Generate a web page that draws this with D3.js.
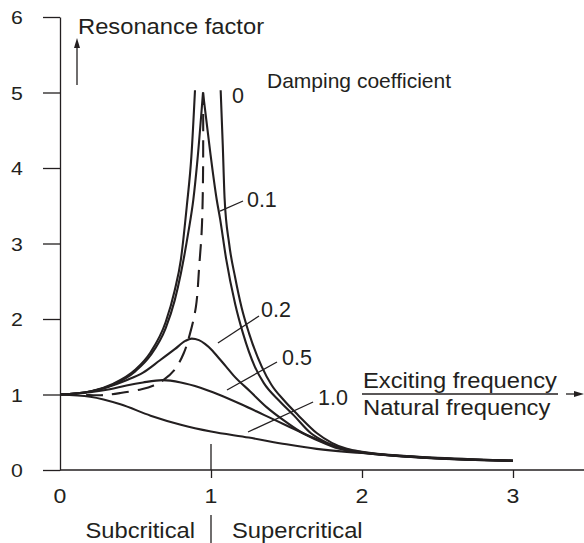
<!DOCTYPE html>
<html><head><meta charset="utf-8">
<script src="https://cdn.jsdelivr.net/npm/d3@7"></script>
<style>
body{margin:0;background:#fff}
svg{display:block}
text{font-family:"Liberation Sans",Arial,Helvetica,sans-serif;fill:#231f20}
</style>
</head><body>
<svg id="chart" width="584" height="543"></svg>
<script>
// ---- data ----
const xTickValues = [0, 1, 2, 3];
const xTickLabels = ["0", "1", "2", "3"];
const yTickValues = [0, 1, 2, 3, 4, 5, 6];
const yTickLabels = ["0", "1", "2", "3", "4", "5", "6"];

// damping 0 : two branches
const d0Left = [[0,1],[0.2,1.04],[0.35,1.14],[0.5,1.33],[0.6,1.56],[0.7,1.96],[0.76,2.38],[0.8,2.78],[0.84,3.5],[0.87,4.15],[0.894,5.03]];
const d0Right = [[1.064,5.03],[1.078,4.3],[1.09,3.6],[1.12,3.0],[1.16,2.55],[1.203,2.15],[1.252,1.81],[1.336,1.37],[1.40,1.13],[1.48,0.93],[1.58,0.72],[1.70,0.49],[1.80,0.36],[1.90,0.28],[2.0,0.24],[2.25,0.19],[2.5,0.16],[2.75,0.14],[3.0,0.125]];
// damping 0.1 : rising and falling side (pointed peak)
const d01Left = [[0,1],[0.2,1.04],[0.35,1.13],[0.5,1.31],[0.6,1.52],[0.7,1.88],[0.76,2.25],[0.8,2.6],[0.85,3.15],[0.883,3.58],[0.91,4.1],[0.947,5.0]];
const d01Right = [[0.947,5.0],[0.993,4.24],[1.038,3.58],[1.06,3.33],[1.1,2.8],[1.16,2.2],[1.212,1.81],[1.29,1.37],[1.35,1.15],[1.45,0.92],[1.55,0.72],[1.66,0.49],[1.77,0.36],[1.88,0.275],[2.0,0.235],[2.25,0.187],[2.5,0.157],[2.75,0.137],[3.0,0.123]];
// damping 0.2
const d02 = [[0,1],[0.2,1.04],[0.44,1.19],[0.55,1.29],[0.66,1.45],[0.76,1.6],[0.83,1.71],[0.872,1.74],[0.92,1.72],[0.96,1.67],[1.01,1.58],[1.04,1.51],[1.1,1.37],[1.15,1.25],[1.26,1.04],[1.37,0.83],[1.48,0.66],[1.59,0.51],[1.72,0.38],[1.85,0.28],[2.0,0.232],[2.25,0.185],[2.5,0.155],[2.75,0.135],[3.0,0.122]];
// damping 0.5
const d05 = [[0,1],[0.2,1.03],[0.33,1.07],[0.44,1.12],[0.55,1.16],[0.68,1.19],[0.8,1.16],[0.93,1.09],[1.05,1.0],[1.2,0.87],[1.35,0.73],[1.5,0.59],[1.65,0.45],[1.8,0.33],[1.92,0.255],[2.0,0.23],[2.25,0.184],[2.5,0.154],[2.75,0.134],[3.0,0.121]];
// damping 1.0
const d10 = [[0,1],[0.2,0.97],[0.4,0.87],[0.6,0.72],[0.8,0.6],[1.0,0.51],[1.25,0.43],[1.5,0.34],[1.7,0.28],[1.9,0.24],[2.0,0.225],[2.25,0.184],[2.5,0.154],[2.75,0.134],[3.0,0.12]];
// locus of maxima (dashed)
const peakLocus = [[0,1],[0.15,0.995],[0.27,0.99],[0.4,1.02],[0.54,1.07],[0.62,1.12],[0.684,1.19],[0.76,1.33],[0.82,1.55],[0.86,1.8],[0.9,2.16],[0.922,2.7],[0.938,3.15],[0.945,3.6],[0.948,4.1],[0.948,5.0]];

// curve labels: text, leader start, leader end, text anchor point (data units)
const curveLabels = [
  {t:"0",   text:[1.139,4.861]},
  {t:"0.1", from:[1.060,3.430], to:[1.212,3.563], text:[1.238,3.483]},
  {t:"0.2", from:[1.046,1.682], to:[1.318,2.040], text:[1.331,2.027]},
  {t:"0.5", from:[1.106,1.060], to:[1.437,1.431], text:[1.470,1.391]},
  {t:"1.0", from:[1.245,0.503], to:[1.676,0.901], text:[1.709,0.861]}
];

// ---- drawing ----
const svg = d3.select("#chart");
const ink = "#231f20";
const x = d3.scaleLinear().domain([0, 3]).range([60, 513]);
const y = d3.scaleLinear().domain([0, 6]).range([470, 17]);

function label(px, py, str, size, anchor, sx) {
  return svg.append("text")
    .attr("transform", `translate(${px},${py}) scale(${sx || 1},1)`)
    .attr("text-anchor", anchor || "start")
    .attr("font-size", size).text(str);
}

// y axis
const yAxis = svg.append("g").attr("transform", `translate(${x(0)},0)`)
  .call(d3.axisLeft(y).tickValues(yTickValues).tickSize(17).tickSizeOuter(0).tickFormat(""));
yAxis.select(".domain").attr("stroke", ink).attr("stroke-width", 1.3);
yAxis.selectAll(".tick line").attr("stroke", ink).attr("stroke-width", 1.3);
yTickValues.forEach((v, i) => label(17, y(v) + 7, yTickLabels[i], 19, "middle", 1.12));

// x axis
const xAxis = svg.append("g").attr("transform", `translate(0,${y(0)})`)
  .call(d3.axisBottom(x).tickValues(xTickValues.filter(v => v > 0)).tickSize(8).tickSizeOuter(0).tickFormat(""));
xAxis.select(".domain").remove();
xAxis.selectAll(".tick line").attr("stroke", ink).attr("stroke-width", 1.3);
xTickValues.forEach((v, i) => label(x(v), 503, xTickLabels[i], 21, "middle", 1.1));
svg.append("line").attr("x1", x(0)).attr("x2", 584).attr("y1", y(0)).attr("y2", y(0))
  .attr("stroke", ink).attr("stroke-width", 1.3);
// critical marker at 1
svg.append("line").attr("x1", x(1)).attr("x2", x(1)).attr("y1", y(0) - 26).attr("y2", y(0))
  .attr("stroke", ink).attr("stroke-width", 1.3);
svg.append("line").attr("x1", x(1)).attr("x2", x(1)).attr("y1", 515).attr("y2", 543)
  .attr("stroke", ink).attr("stroke-width", 1.3);
label(x(1) - 16, 538, "Subcritical", 22, "end", 1.08);
label(x(1) + 21, 538, "Supercritical", 22, "start", 1.08);

// curves
const lineM = d3.line().x(d => x(d[0])).y(d => y(d[1])).curve(d3.curveMonotoneX);
const lineC = d3.line().x(d => x(d[0])).y(d => y(d[1])).curve(d3.curveCatmullRom.alpha(0.5));
[d10, d05, d02, d01Left, d01Right, d0Left, d0Right].forEach(s => {
  svg.append("path").attr("d", lineM(s)).attr("fill", "none")
    .attr("stroke", ink).attr("stroke-width", 2.1).attr("stroke-linejoin", "round");
});
svg.append("path").attr("d", lineC(peakLocus)).attr("fill", "none")
  .attr("stroke", ink).attr("stroke-width", 2.1).attr("stroke-dasharray", "17,9");

// curve labels
curveLabels.forEach(l => {
  if (l.from) svg.append("line").attr("x1", x(l.from[0])).attr("y1", y(l.from[1]))
    .attr("x2", x(l.to[0])).attr("y2", y(l.to[1])).attr("stroke", ink).attr("stroke-width", 1.3);
  label(x(l.text[0]), y(l.text[1]), l.t, 21.5, "start", 1);
});

// axis titles
label(78, 34, "Resonance factor", 22, "start", 1.08);
svg.append("line").attr("x1", 77).attr("x2", 77).attr("y1", 85).attr("y2", 46)
  .attr("stroke", ink).attr("stroke-width", 1.3);
svg.append("path").attr("d", "M77,38 L74,48 L80,48 Z").attr("fill", ink);
label(267, 88, "Damping coefficient", 21, "start", 1);

label(363, 388, "Exciting frequency", 22, "start", 1.08);
svg.append("line").attr("x1", 362).attr("x2", 558).attr("y1", 394).attr("y2", 394)
  .attr("stroke", ink).attr("stroke-width", 1.3);
label(363, 415, "Natural frequency", 22, "start", 1.08);
svg.append("line").attr("x1", 566).attr("x2", 576).attr("y1", 394).attr("y2", 394)
  .attr("stroke", ink).attr("stroke-width", 1.3);
svg.append("path").attr("d", "M584,394 L574,391 L574,397 Z").attr("fill", ink);
</script>
</body></html>
